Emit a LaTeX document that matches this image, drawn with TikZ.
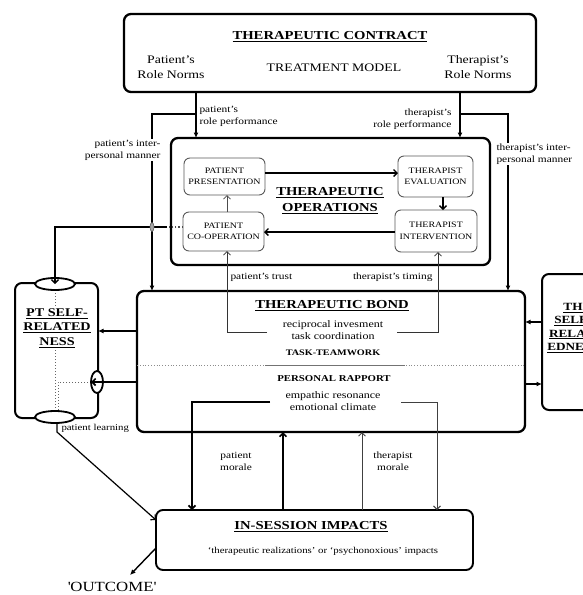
\documentclass[tikz,border=0pt]{standalone}
\usepackage{fontspec}
\setmainfont[FakeStretch=1.2]{Liberation Serif}
\usetikzlibrary{arrows.meta,shapes.geometric}
\newcommand\fs[2]{\fontsize{#1}{#2}\selectfont}
\newcommand\ttl{\fs{12.2}{16}\bfseries}
\begin{document}
\begin{tikzpicture}[x=1pt,y=-1pt,
  box/.style={draw,line width=2.3pt,rounded corners=7pt,inner sep=0pt,outer sep=0pt},
  sbox/.style={draw=black!65,line width=0.9pt,rounded corners=6pt,inner sep=0pt,outer sep=0pt,align=center,font=\fs{8.3}{11.5}},
  txt/.style={inner sep=0pt,outer sep=0pt,align=center},
  lbl/.style={inner sep=0.5pt,outer sep=0pt,font=\fs{9.5}{12}},
  harr/.style={-{Latex[length=5.5pt,width=5pt]}},
  oarr/.style={-{Straight Barb[length=3.5pt,width=7pt]}},
  ell/.style={ellipse,draw,line width=1.8pt,fill=white,inner sep=0pt,outer sep=0pt},
]
\useasboundingbox (0,0) rectangle (582,595);

% helper coordinates
\coordinate (xa) at (196,0);
\coordinate (xb) at (460,0);
\coordinate (xc) at (152,0);
\coordinate (xd) at (508,0);
\coordinate (ya) at (0,114);
\coordinate (y173) at (0,173);
\coordinate (x443) at (443,0);
\coordinate (y232) at (0,232);
\coordinate (x227) at (227,0);
\coordinate (x438) at (438,0);
\coordinate (y227) at (0,227);
\coordinate (y331) at (0,331);
\coordinate (y382) at (0,382);
\coordinate (y322) at (0,322);
\coordinate (y384) at (0,384);
\coordinate (y520) at (0,520);
\coordinate (y548) at (0,548);
\coordinate (x192) at (192,0);
\coordinate (x283) at (283,0);
\coordinate (x362) at (362,0);
\coordinate (x437) at (437,0);

% ---------------- contract
\node[box,minimum width=412pt,minimum height=78pt] (contract) at (330,53) {};
\node[txt,font=\ttl] (ctitle) at (330,37) {\underline{THERAPEUTIC CONTRACT}};
\node[txt,font=\fs{11.5}{14.5}] (cpn) at (171,67) {Patient's\\Role Norms};
\node[txt,font=\fs{11.5}{14.5}] (ctm) at (334,68) {TREATMENT MODEL};
\node[txt,font=\fs{11.5}{14.5}] (ctn) at (478,67) {Therapist's\\Role Norms};

% ---------------- operations
\node[box,minimum width=319pt,minimum height=127pt] (ops) at (330.5,201.5) {};
\node[txt,font=\ttl] (otitle) at (330,201) {\underline{THERAPEUTIC}\\\underline{OPERATIONS}};
\node[sbox,minimum width=81pt,minimum height=37pt] (pp) at (224.5,176.5) {PATIENT\\PRESENTATION};
\node[sbox,minimum width=81pt,minimum height=39pt] (pc) at (223.5,231.5) {PATIENT\\CO-OPERATION};
\node[sbox,minimum width=75pt,minimum height=41pt] (te) at (435.5,176.5) {THERAPIST\\EVALUATION};
\node[sbox,minimum width=82pt,minimum height=42pt] (ti) at (436,231) {THERAPIST\\INTERVENTION};

% ---------------- bond
\node[box,minimum width=388pt,minimum height=141pt] (bond) at (331,361.5) {};
\node[txt,font=\ttl] (btitle) at (332,306) {\underline{THERAPEUTIC BOND}};
\node[txt,font=\fs{10}{12}] (btask) at (333,330) {reciprocal invesment\\task coordination};
\node[txt,font=\fs{8.5}{10}\bfseries] (btw) at (333,353) {TASK-TEAMWORK};
\draw[black!45,line width=0.8pt,dotted] (bond.west |- 0,365) -- (bond.east |- 0,365);
\draw[black!55,line width=0.8pt] (265,365) -- (405,365);
\node[txt,font=\fs{9}{10}\bfseries] (bpr) at (334,379) {PERSONAL RAPPORT};
\node[txt,font=\fs{10}{12}] (bemp) at (333,401) {empathic resonance\\emotional climate};

% ---------------- impacts
\node[box,line width=1.9pt,minimum width=317pt,minimum height=60pt] (imp) at (314.5,540) {};
\node[txt,font=\ttl] (ititle) at (311,527) {\underline{IN-SESSION IMPACTS}};
\node[txt,font=\fs{9}{11}] (isub) at (323,551) {`therapeutic realizations' or `psychonoxious' impacts};
\node[txt,font=\fs{14}{16}] (outc) at (112,587) {\textquotesingle OUTCOME\textquotesingle};
\coordinate (oe) at (130,575);

% ---------------- PT self-relatedness
\node[box,line width=2pt,minimum width=83pt,minimum height=135pt] (pts) at (56.5,350.5) {};
\draw[black!60,line width=1pt,dotted] (55,290) -- (55,411);
\draw[black!60,line width=1pt,dotted] (91,382) -- (58,382) -- (58,411);
\node[txt,fill=white,inner sep=1pt,font=\fs{11.8}{14.5}\bfseries] (ptt) at (57,328) {\underline{PT SELF-}\\\underline{RELATED}\\\underline{NESS}};
\node[ell,minimum width=40pt,minimum height=12pt] (etop) at (55,284) {};
\node[ell,minimum width=40pt,minimum height=12pt] (ebot) at (55,417) {};
\node[ell,minimum width=12pt,minimum height=22pt] (eside) at (97,382) {};

% ---------------- TH self-relatedness
\node[box,line width=2pt,minimum width=80pt,minimum height=136pt] (ths) at (582,342) {};
\node[txt,font=\fs{11}{13.3}\bfseries] (tht) at (573,328) {\underline{TH}\\\underline{SELF-}\\\underline{RELAT-}\\\underline{EDNESS}};

% ---------------- connectors: contract
\draw[line width=1.6pt,harr] (contract.south -| xa) -- (ops.north -| xa);
\draw[line width=1.6pt,harr] (contract.south -| xb) -- (ops.north -| xb);
\draw[line width=1.3pt,harr] (xa |- ya) -| (bond.north -| xc);
\draw[line width=1.3pt,harr] (xb |- ya) -| (bond.north -| xd);
\node[lbl,anchor=west,align=left] (lprp) at (199,116) {patient's\\role performance};
\node[lbl,anchor=east,align=right] (ltrp) at (452,119) {therapist's\\role performance};
\node[lbl,fill=white,anchor=east,align=right] (lpim) at (161,150) {patient's inter-\\personal manner};
\node[lbl,fill=white,anchor=west,align=left] (ltim) at (496,154) {therapist's inter-\\personal manner};

% ---------------- connectors: operations
\draw[line width=1.4pt,oarr] (pp.east |- y173) -- (te.west |- y173);
\draw[line width=1.4pt,oarr] (te.south -| x443) -- (ti.north -| x443);
\draw[line width=1.4pt,oarr] (ti.west |- y232) -- (pc.east |- y232);
\draw[black!70,line width=0.8pt,oarr] (pc.north -| x227) -- (pp.south -| x227);

% patient co-operation -> PT self
\coordinate (pcd) at (167,227);
\draw[black!70,line width=1.3pt,dotted] (pc.west |- y227) -- (pcd);
\draw[line width=1.3pt,oarr] (pcd) -| (etop.center);
\node[ellipse,draw=black!60,fill=black!35,line width=0.6pt,minimum width=4pt,minimum height=9pt,inner sep=0pt] (hop) at (152,227) {};

% trust and timing
\coordinate (trs) at (267,332);
\coordinate (tms) at (397,332);
\draw[black!80,line width=0.8pt,oarr] (trs) -| (pc.south -| x227);
\draw[black!80,line width=0.8pt,oarr] (tms) -| (ti.south -| x438);
\node[lbl,anchor=west] (ltr) at (230,277) {patient's trust};
\node[lbl,anchor=east] (ltm) at (433,277) {therapist's timing};

% bond -> PT self
\draw[line width=1.6pt,harr] (bond.west |- y331) -- (pts.east |- y331);
\draw[line width=1.6pt,oarr] (bond.west |- y382) -- (eside.west);

% patient learning
\coordinate (pl1) at (57,423);
\coordinate (pl2) at (57,432);
\draw[line width=1.2pt,oarr] (pl1) -- (pl2) -- (imp.west |- y520);
\node[lbl,anchor=west,font=\fs{9}{11}] (lpl) at (61,428) {patient learning};

% TH arrows
\draw[line width=1.4pt,harr] (ths.west |- y322) -- (bond.east |- y322);
\draw[line width=1.4pt,harr] (bond.east |- y384) -- (ths.west |- y384);

% morale
\coordinate (m1) at (270,402);
\coordinate (m2) at (401,402);
\draw[line width=1.7pt,oarr] (m1) -| (imp.north -| x192);
\draw[line width=1.7pt,oarr] (imp.north -| x283) -- (bond.south -| x283);
\draw[black!75,line width=0.9pt,oarr] (imp.north -| x362) -- (bond.south -| x362);
\draw[black!75,line width=0.9pt,oarr] (m2) -| (imp.north -| x437);
\node[lbl,align=center] (lpm) at (236,461) {patient\\morale};
\node[lbl,align=center] (ltmo) at (393,461) {therapist\\morale};

% outcome
\draw[line width=1.4pt,harr] (imp.west |- y548) -- (oe);
\end{tikzpicture}
\end{document}
